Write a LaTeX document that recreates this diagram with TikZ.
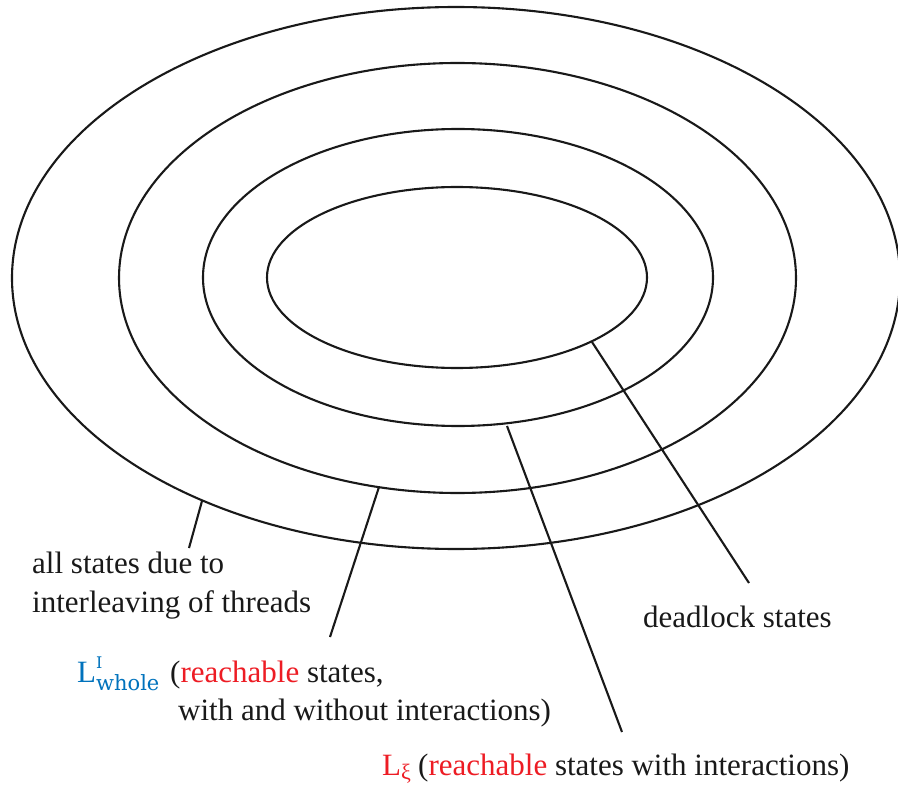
\documentclass[tikz,border=0pt]{standalone}
\usepackage{fontspec}
\setmainfont{Liberation Serif}
\newfontfamily\subfont{DejaVu Serif}
\definecolor{lred}{RGB}{237,28,36}
\definecolor{lblue}{RGB}{0,114,188}
\begin{document}
\begin{tikzpicture}[x=1pt,y=-1pt,
  ring/.style={draw=black!90,line width=2.1pt},
  pointer/.style={draw=black!90,line width=2.1pt},
  lbl/.style={anchor=base west,inner sep=0pt,font=\fontsize{31}{37}\selectfont,text=black!90}]
\useasboundingbox (0,0) rectangle (898,789);
% ellipses
\draw[ring] (456,278) ellipse [x radius=444pt, y radius=271pt];
\draw[ring] (457.5,278) ellipse [x radius=338.5pt, y radius=215pt];
\draw[ring] (458,277.5) ellipse [x radius=255pt, y radius=148.5pt];
\draw[ring] (457,277.5) ellipse [x radius=190pt, y radius=90.5pt];
% connector endpoints
\coordinate (p1a) at (202,501);
\coordinate (p1b) at (189,548);
\coordinate (p2a) at (379,487);
\coordinate (p2b) at (330,637);
\coordinate (p3a) at (507,426);
\coordinate (p3b) at (622,732);
\coordinate (p4a) at (592,342);
\coordinate (p4b) at (749,583);
\draw[pointer] (p1a) -- (p1b);
\draw[pointer] (p2a) -- (p2b);
\draw[pointer] (p3a) -- (p3b);
\draw[pointer] (p4a) -- (p4b);
% labels
\node[lbl] (all1) at (32,573) {all states due to};
\node[lbl] (all2) at (32,612) {interleaving of threads};
\node[lbl] (dead) at (643,627) {deadlock states};
\node[lbl,text=lblue] (lw) at (77,682) {L\rlap{\raisebox{14pt}{\subfont\fontsize{16}{16}\selectfont I}}\raisebox{-8pt}{\subfont\fontsize{21}{21}\selectfont whole}};
\node[lbl] (lw1) at (170,682) {(\textcolor{lred}{reachable} states,};
\node[lbl] (lw2) at (178,720) {with and without interactions)};
\node[lbl,text=lred] (lx) at (382,775) {L\raisebox{-4pt}{\fontsize{22}{22}\selectfont ξ}};
\node[lbl] (lx1) at (418,775) {(\textcolor{lred}{reachable} states with interactions)};
\end{tikzpicture}
\end{document}
